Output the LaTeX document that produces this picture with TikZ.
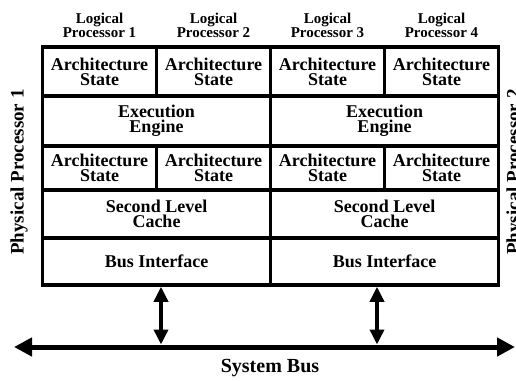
\documentclass[tikz,border=0pt]{standalone}
\usepackage{fontspec}
\setmainfont{Liberation Serif}
\usepackage{tikz}
\usetikzlibrary{positioning, arrows.meta}

\tikzstyle{cell} = [rectangle, 
draw=black, 
line width=3.5pt, 
outer sep=0pt, 
inner sep=0pt, 
align=center, 
font=\bfseries\fontsize{18}{15}\selectfont]
\tikzstyle{half} = [cell, minimum width=114pt]
\tikzstyle{wide} = [cell, minimum width=228pt]
\tikzstyle{lproc} = [align=center, inner sep=0pt, 
font=\bfseries\fontsize{15}{14}\selectfont]
\tikzstyle{pproc} = [rotate=90, inner sep=0pt, 
font=\bfseries\fontsize{19}{19}\selectfont]
\tikzstyle{sysline} = [line width=5pt, {Triangle[width=18pt,length=18pt]}-{Triangle[width=18pt,length=18pt]}]
\tikzstyle{link} = [line width=3.5pt, {Triangle[width=14pt,length=15pt]}-{Triangle[width=14pt,length=15pt]}]

\begin{document}
\begin{tikzpicture}[x=1pt, y=-1pt]
\useasboundingbox (0,0) rectangle (516,380);

% top row of architecture states
\node (as1) [half, minimum height=49pt, anchor=north west] at (42.5,47) {Architecture\\State};
\node (as2) [half, minimum height=49pt, right=0pt of as1] {Architecture\\State};
\node (as3) [half, minimum height=49pt, right=0pt of as2] {Architecture\\State};
\node (as4) [half, minimum height=49pt, right=0pt of as3] {Architecture\\State};

\node (ee1) [wide, minimum height=50pt, below=0pt of as1.south west, anchor=north west] {Execution\\Engine};
\node (ee2) [wide, minimum height=50pt, right=0pt of ee1] {Execution\\Engine};

% second row of architecture states
\node (as5) [half, minimum height=44pt, below=0pt of ee1.south west, anchor=north west] {Architecture\\State};
\node (as6) [half, minimum height=44pt, right=0pt of as5] {Architecture\\State};
\node (as7) [half, minimum height=44pt, right=0pt of as6] {Architecture\\State};
\node (as8) [half, minimum height=44pt, right=0pt of as7] {Architecture\\State};

\node (cache1) [wide, minimum height=48pt, below=0pt of as5.south west, anchor=north west] {Second Level\\Cache};
\node (cache2) [wide, minimum height=48pt, right=0pt of cache1] {Second Level\\Cache};

\node (bus1) [wide, minimum height=47pt, below=0pt of cache1.south west, anchor=north west] {Bus Interface};
\node (bus2) [wide, minimum height=47pt, right=0pt of bus1] {Bus Interface};

% labels round the boxes
\node (lp1) [lproc, above=9pt of as1] {Logical\\Processor 1};
\node (lp2) [lproc, above=9pt of as2] {Logical\\Processor 2};
\node (lp3) [lproc, above=9pt of as3] {Logical\\Processor 3};
\node (lp4) [lproc, above=9pt of as4] {Logical\\Processor 4};
\node (pp1) [pproc] at (19,172) {Physical Processor 1};
\node (pp2) [pproc] at (515,172) {Physical Processor 2};

% system bus
\coordinate (busL) at (14,347);
\coordinate (busR) at (515,347);
\draw [sysline] (busL) -- (busR);
\node (sysbus) [lproc, font=\bfseries\fontsize{20}{20}\selectfont] at (270,368) {System Bus};

\coordinate (tap1) at (161,344.5);
\coordinate (tap2) at (377,344.5);
\draw [link, shorten <=1.75pt] (bus1.south -| tap1) -- (tap1);
\draw [link, shorten <=1.75pt] (bus2.south -| tap2) -- (tap2);

\end{tikzpicture}
\end{document}
